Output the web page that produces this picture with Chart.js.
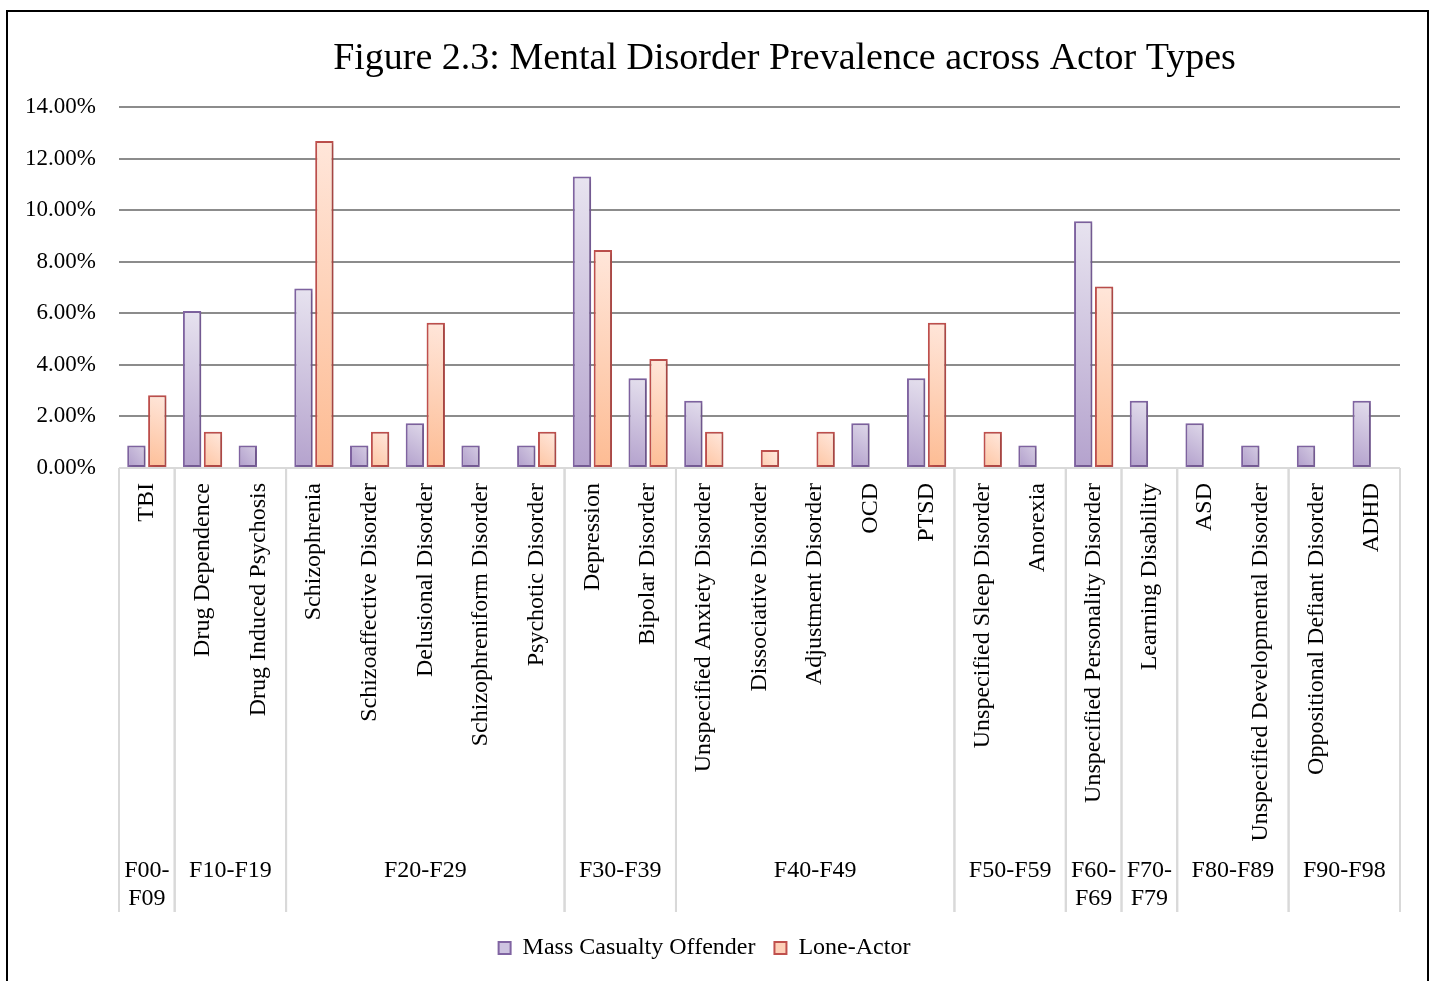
<!DOCTYPE html>
<html>
<head>
<meta charset="utf-8">
<script src="https://cdn.jsdelivr.net/npm/chart.js@4.4.1/dist/chart.umd.min.js"></script>
<style>
    html, body { margin: 0; padding: 0; background: #fff; }
    #wrap { position: absolute; left: 0; top: 0; width: 1435px; height: 981px; }
    #frame { position: absolute; left: 6px; top: 10px; width: 1423px; height: 1000px;
             box-sizing: border-box; border: 2px solid #000; pointer-events: none; }
</style>
</head>
<body>
<div id="wrap"><canvas id="prevChart"></canvas></div>
<div id="frame"></div>
<script>
// Disorders (x categories)
const disorders = ['TBI', 'Drug Dependence', 'Drug Induced Psychosis', 'Schizophrenia',
    'Schizoaffective Disorder', 'Delusional Disorder', 'Schizophreniform Disorder',
    'Psychotic Disorder', 'Depression', 'Bipolar Disorder', 'Unspecified Anxiety Disorder',
    'Dissociative Disorder', 'Adjustment Disorder', 'OCD', 'PTSD', 'Unspecified Sleep Disorder',
    'Anorexia', 'Unspecified Personality Disorder', 'Learning Disability', 'ASD',
    'Unspecified Developmental Disorder', 'Oppositional Defiant Disorder', 'ADHD'];

// ICD-10 groups and how many disorders each one spans
const groupLabels = ['F00-F09', 'F10-F19', 'F20-F29', 'F30-F39', 'F40-F49',
    'F50-F59', 'F60-F69', 'F70-F79', 'F80-F89', 'F90-F98'];
const groupSizes = [1, 2, 5, 2, 5, 2, 1, 1, 2, 2];

// Prevalence in % (null = no bar)
const massCasualty = [0.87, 6.09, 0.87, 6.96, 0.87, 1.74, 0.87, 0.87, 11.30, 3.48, 2.61,
    null, null, 1.74, 3.48, null, 0.87, 9.57, 2.61, 1.74, 0.87, 0.87, 2.61];
const loneActor = [2.82, 1.41, null, 12.68, 1.41, 5.63, null, 1.41, 8.45, 4.23, 1.41,
    0.70, 1.41, null, 5.63, 1.41, null, 7.04, null, null, null, null, null];

const yTicks = [0, 2, 4, 6, 8, 10, 12, 14];

const FONT = '"Liberation Serif", "Times New Roman", serif';

// gradient fill per bar, light at the top, darker at the bottom left
function barFill(light, dark) {
    return function (c) {
        const chart = c.chart;
        if (!chart.chartArea || c.raw == null || !chart.scales.y) return dark;
        const top = chart.scales.y.getPixelForValue(c.raw);
        const bottom = chart.scales.y.getPixelForValue(0);
        const cx = chart.scales.x.getPixelForValue(c.dataIndex);
        const g = chart.ctx.createLinearGradient(cx - 15, bottom, cx + 15, top);
        g.addColorStop(0, dark);
        g.addColorStop(1, light);
        return g;
    };
}

// soft shadow behind the bars
const barShadow = {
    id: 'barShadow',
    beforeDatasetsDraw(chart) {
        const ctx = chart.ctx;
        ctx.save();
        ctx.shadowColor = 'rgba(0,0,0,0.18)';
        ctx.shadowBlur = 4;
        ctx.shadowOffsetX = 2;
        ctx.shadowOffsetY = 1;
    },
    afterDatasetsDraw(chart) {
        chart.ctx.restore();
    }
};

// title + group row below the rotated disorder labels
const groupRow = {
    id: 'groupRow',
    afterDraw(chart) {
        const {ctx, chartArea, scales: {x}} = chart;
        const half = (x.getPixelForValue(1) - x.getPixelForValue(0)) / 2;
        const y0 = chartArea.bottom;
        const y1 = chartArea.bottom + 444;
        ctx.save();
        ctx.fillStyle = '#000';
        ctx.font = '38px ' + FONT;
        ctx.textAlign = 'center';
        ctx.textBaseline = 'alphabetic';
        ctx.fillText('Figure 2.3: Mental Disorder Prevalence across Actor Types',
            (chartArea.left + chartArea.right) / 2 + 25, 69);

        ctx.strokeStyle = '#d9d9d9';
        ctx.lineWidth = 2;
        ctx.font = '24px ' + FONT;
        ctx.textBaseline = 'middle';
        let start = 0;
        groupSizes.forEach((n, i) => {
            const left = x.getPixelForValue(start) - half;
            const right = x.getPixelForValue(start + n - 1) + half;
            ctx.beginPath();
            ctx.moveTo(left, y0); ctx.lineTo(left, y1);
            ctx.moveTo(right, y0); ctx.lineTo(right, y1);
            ctx.stroke();
            const mid = (left + right) / 2;
            const label = groupLabels[i];
            if (n === 1) {
                const parts = label.split('-');
                ctx.fillText(parts[0] + '-', mid, y0 + 403);
                ctx.fillText(parts[1], mid, y0 + 431);
            } else {
                ctx.fillText(label, mid, y0 + 403);
            }
            start += n;
        });
        ctx.restore();
    }
};

new Chart(document.getElementById('prevChart').getContext('2d'), {
    type: 'bar',
    data: {
        labels: disorders,
        datasets: [
            {
                label: 'Mass Casualty Offender',
                data: massCasualty,
                backgroundColor: barFill('#e8e4f0', '#b4a2cd'),
                borderColor: '#8064a2',
                borderWidth: 2,
                borderSkipped: false,
                categoryPercentage: 0.75,
                barPercentage: 0.88
            },
            {
                label: 'Lone-Actor',
                data: loneActor,
                backgroundColor: barFill('#ffe6da', '#fdbb92'),
                borderColor: '#c0504d',
                borderWidth: 2,
                borderSkipped: false,
                categoryPercentage: 0.75,
                barPercentage: 0.88
            }
        ]
    },
    options: {
        responsive: true,
        maintainAspectRatio: false,
        animation: false,
        layout: {
            padding: { left: 9, right: 35, top: 107, bottom: 11 }
        },
        plugins: {
            title: { display: false },
            tooltip: { enabled: false },
            legend: {
                position: 'bottom',
                labels: {
                    color: '#000',
                    font: { family: FONT, size: 24 },
                    boxWidth: 12,
                    boxHeight: 12,
                    padding: 19,
                    generateLabels: function (chart) {
                        return chart.data.datasets.map((ds, i) => ({
                            text: ds.label,
                            fillStyle: i === 0 ? '#cdc3e0' : '#fed0b8',
                            strokeStyle: ds.borderColor,
                            lineWidth: 2,
                            fontColor: '#000',
                            datasetIndex: i
                        }));
                    }
                }
            }
        },
        scales: {
            y: {
                min: 0,
                max: 14,
                afterFit: function (scale) { scale.width = 110; },
                afterBuildTicks: function (scale) {
                    scale.ticks = yTicks.map(v => ({ value: v }));
                },
                border: { display: false },
                grid: {
                    drawTicks: false,
                    lineWidth: 2,
                    color: c => (c.tick && c.tick.value === 0) ? '#d9d9d9' : '#8c8c8c'
                },
                ticks: {
                    padding: 23,
                    color: '#000',
                    font: { family: FONT, size: 23 },
                    callback: v => v.toFixed(2) + '%'
                }
            },
            x: {
                afterFit: function (scale) { scale.height = 449; },
                border: { display: false },
                grid: { display: false, drawTicks: false },
                ticks: {
                    autoSkip: false,
                    minRotation: 90,
                    maxRotation: 90,
                    padding: 15,
                    color: '#000',
                    font: { family: FONT, size: 24 }
                }
            }
        }
    },
    plugins: [barShadow, groupRow]
});
</script>
</body>
</html>
